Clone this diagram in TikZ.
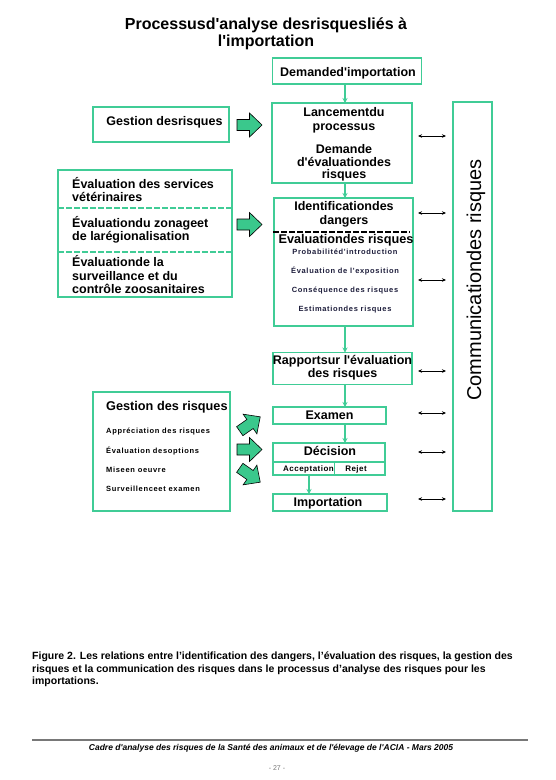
\documentclass[tikz,border=0pt]{standalone}
\usepackage{fontspec}
\setmainfont{Liberation Sans}[Ligatures=TeXOff]
\usetikzlibrary{arrows.meta,calc}
\definecolor{boxgreen}{RGB}{64,204,150}
\definecolor{fatgreen}{RGB}{58,200,140}
\definecolor{navy}{RGB}{30,30,60}
\definecolor{rulegray}{RGB}{120,120,120}
\begin{document}
\begin{tikzpicture}[x=1pt,y=-1pt,
  box/.style={draw=boxgreen,line width=1.2pt,inner sep=0pt,outer sep=0pt},
  btxt/.style={font=\bfseries\fontsize{12.5}{14}\selectfont,align=center,inner sep=0pt,anchor=mid,yshift=-1pt},
  ltxt/.style={font=\bfseries\fontsize{12.5}{14}\selectfont,align=left,inner sep=0pt,anchor=mid west,yshift=-1pt},
  small/.style={font=\bfseries\fontsize{7.5}{8}\selectfont\addfontfeature{LetterSpace=9},text=navy,inner sep=0pt,anchor=mid},
  smallw/.style={font=\bfseries\fontsize{7.5}{8}\selectfont\addfontfeature{LetterSpace=9},text=navy,inner sep=0pt,anchor=mid west},
  garrow/.style={draw=boxgreen,line width=1.2pt,-{Stealth[length=5pt,width=5pt]}},
  dbl/.style={draw=black,line width=0.6pt,{Stealth[length=4pt,width=3.5pt]}-{Stealth[length=4pt,width=3.5pt]}},
  fatarrow/.pic={\draw[fill=fatgreen,draw=black,line width=0.6pt]
     (-12.5,-5.5) -- (0,-5.5) -- (0,-12) -- (12.5,0) -- (0,12) -- (0,5.5) -- (-12.5,5.5) -- cycle;}
]
\useasboundingbox (0,0) rectangle (555,780);
\fill[white] (0,0) rectangle (555,780);

% title
\node[font=\bfseries\fontsize{16}{16.5}\selectfont,align=center,inner sep=0pt] (title) at (266,34)
  {Processusd'analyse desrisquesliés à\\l'importation};

% main column
\node[box,minimum width=149pt,minimum height=26pt] (dem) at (347,71) {};
\node[btxt] (demt) at (348,73) {Demanded'importation};

\node[box,minimum width=140pt,minimum height=80pt] (lanc) at (342,143) {};
\node[btxt] (lanct1) at (344,113) {Lancementdu};
\node[btxt] (lanct2) at (344,127) {processus};
\node[btxt] (lanct3) at (344,150) {Demande};
\node[btxt] (lanct4) at (344,163) {d'évaluationdes};
\node[btxt] (lanct5) at (344,175) {risques};

\node[box,minimum width=139pt,minimum height=128pt] (ident) at (343.5,262) {};
\node[btxt] (identt1) at (344,207) {Identificationdes};
\node[btxt] (identt2) at (344,221) {dangers};
\draw[black,line width=1.6pt,dash pattern=on 6pt off 2pt] (273,232) -- (410,232);
\node[btxt,font=\bfseries\fontsize{12.7}{14}\selectfont] (evalr) at (346,240) {Evaluationdes risques};
\node[small] (p1) at (345,252) {Probabilitéd'introduction};
\node[small] (p2) at (345,271) {Évaluation de l'exposition};
\node[small] (p3) at (345,290) {Conséquence des risques};
\node[small] (p4) at (345,309) {Estimationdes risques};

\node[box,minimum width=139pt,minimum height=32pt] (rapp) at (342.5,368.5) {};
\node[btxt] (rappt1) at (342.5,361) {Rapportsur l'évaluation};
\node[btxt] (rappt2) at (342.5,374) {des risques};

\node[box,minimum width=113pt,minimum height=17pt] (exam) at (329.5,415.5) {};
\node[btxt] (examt) at (329.5,416) {Examen};

\node[box,minimum width=112pt,minimum height=32pt] (deci) at (329,459) {};
\node[btxt] (decit) at (330,452) {Décision};
\draw[boxgreen,line width=1.2pt] (deci.west |- 0,462) -- (deci.east |- 0,462);
\node[inner sep=0pt,minimum width=61pt,minimum height=13pt] (acc) at (303.5,468.5) {};
\draw[boxgreen,line width=1.2pt] (acc.north east) -- (acc.south east);
\node[small,text=black,font=\bfseries\fontsize{8}{8}\selectfont\addfontfeature{LetterSpace=6}] (acct) at (308.5,468.5) {Acceptation};
\node[small,text=black,font=\bfseries\fontsize{8}{8}\selectfont\addfontfeature{LetterSpace=6}] (rejt) at (356,468.5) {Rejet};

\node[box,minimum width=114pt,minimum height=17pt] (impo) at (330,502.5) {};
\node[btxt] (impot) at (328,502.5) {Importation};

% communication box
\node[box,minimum width=39pt,minimum height=409pt] (comm) at (472.5,306.5) {};
\node[rotate=90,font=\fontsize{20}{24}\selectfont,inner sep=0pt] (commt) at (476,280) {Communicationdes risques};

% green arrows
\draw[garrow] (dem.south -| 345,0) -- (lanc.north -| 345,0);
\draw[garrow] (lanc.south -| 345,0) -- (ident.north -| 345,0);
\draw[garrow] (ident.south -| 345,0) -- (rapp.north -| 345,0);
\draw[garrow] (rapp.south -| 345,0) -- (exam.north -| 345,0);
\draw[garrow] (exam.south -| 345,0) -- (deci.north -| 345,0);
\draw[garrow] (acc.south -| 309,0) -- (impo.north -| 309,0);

% double arrows
\foreach \yy in {136,213,280,371,413,452,499}
  \draw[dbl] ([xshift=-35pt]comm.west |- 0,\yy) -- ([xshift=-7pt]comm.west |- 0,\yy);

% left boxes
\node[box,minimum width=136pt,minimum height=35pt] (gest1) at (161,124.5) {};
\node[btxt] (gest1t) at (164.5,122) {Gestion desrisques};

\node[box,minimum width=174pt,minimum height=127pt] (evals) at (145,233.5) {};
\draw[boxgreen,line width=1.2pt,dash pattern=on 6pt off 2pt] (evals.west |- 0,208) -- (evals.east |- 0,208);
\draw[boxgreen,line width=1.2pt,dash pattern=on 6pt off 2pt] (evals.west |- 0,252) -- (evals.east |- 0,252);
\node[ltxt] (e1) at (72,185) {Évaluation des services};
\node[ltxt] (e2) at (72,198) {vétérinaires};
\node[ltxt] (e3) at (72,224) {Évaluationdu zonageet};
\node[ltxt] (e4) at (72,237) {de larégionalisation};
\node[ltxt] (e5) at (72,263) {Évaluationde la};
\node[ltxt] (e6) at (72,277) {surveillance et du};
\node[ltxt] (e7) at (72,290) {contrôle zoosanitaires};

\node[box,minimum width=137pt,minimum height=119pt] (gest2) at (161.5,451.5) {};
\node[ltxt,font=\bfseries\fontsize{12.7}{14}\selectfont] (g2t) at (106,407) {Gestion des risques};
\node[smallw,text=black] (g1) at (106,431) {Appréciation des risques};
\node[smallw,text=black] (g2) at (106,451) {Évaluation desoptions};
\node[smallw,text=black] (g3) at (106,470) {Miseen oeuvre};
\node[smallw,text=black] (g4) at (106,489) {Surveillenceet examen};

% fat arrows
\pic (fa1) at (249.5,125) {fatarrow};
\pic (fa2) at (249.5,224.5) {fatarrow};
\pic[rotate=35] (fa3) at (250,424) {fatarrow};
\pic (fa4) at (249.5,449.5) {fatarrow};
\pic[rotate=-35] (fa5) at (250,475) {fatarrow};

% caption
\node[anchor=north west,align=left,inner sep=0pt,font=\bfseries\fontsize{10.5}{12.5}\selectfont] (cap) at (32,652)
  {Figure 2. Les relations entre l’identification des dangers, l’évaluation des risques, la gestion des\\
   risques et la communication des risques dans le processus d’analyse des risques pour les\\
   importations.};

% footer
\draw[rulegray,line width=1.8pt] (32,740) -- (528,740);
\node[font=\bfseries\itshape\fontsize{8.5}{9}\selectfont,inner sep=0pt,anchor=mid] (foot) at (271,748)
  {Cadre d'analyse des risques de la Santé des animaux et de l'élevage de l'ACIA - Mars 2005};
\node[font=\fontsize{7}{8}\selectfont,text=rulegray,inner sep=0pt,anchor=mid] (pg) at (277,768) {- 27 -};
\end{tikzpicture}
\end{document}
